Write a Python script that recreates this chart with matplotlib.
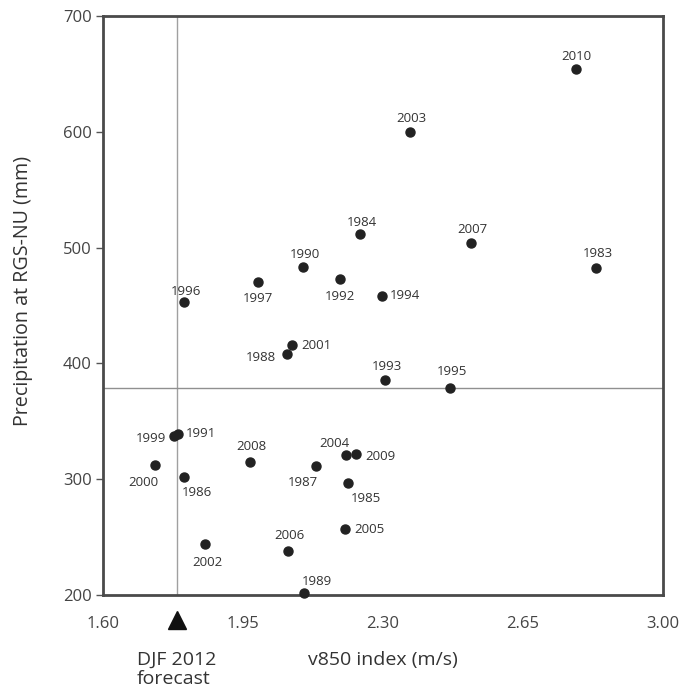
import matplotlib
matplotlib.use("Agg")
import matplotlib.pyplot as plt

plt.rcParams['font.family'] = ['Open Sans', 'DejaVu Sans']

# v850 index (m/s) and DJF precipitation at RGS-NU (mm) per year
years = [1983, 1984, 1985, 1986, 1987, 1988, 1989, 1990, 1991, 1992, 1993,
         1994, 1995, 1996, 1997, 1999, 2000, 2001, 2002, 2003, 2004, 2005,
         2006, 2007, 2008, 2009, 2010]
v850 = [2.833, 2.243, 2.213, 1.803, 2.133, 2.059, 2.103, 2.101, 1.788, 2.193,
        2.306, 2.298, 2.468, 1.803, 1.988, 1.778, 1.730, 2.073, 1.855, 2.368,
        2.208, 2.206, 2.063, 2.521, 1.968, 2.233, 2.782]
precip = [482, 512, 297, 302, 311, 408, 201.5, 483, 339, 473, 386,
          458.5, 379, 453, 470, 337, 312, 416, 244, 600,
          321, 257, 238, 504, 315, 322, 654]

forecast_v850 = 1.785
mean_precip = 379

xticks = [1.60, 1.95, 2.30, 2.65, 3.00]
yticks = [200, 300, 400, 500, 600, 700]

# label offsets from each point, in pixels (x right, y down)
label_off = {
    1983: (2, -15), 1984: (2, -11), 1985: (18, 16), 1986: (13, 16),
    1987: (-13, 16), 1988: (-26, 3), 1989: (13, -12), 1990: (2, -13),
    1991: (23, -1), 1992: (0, 18), 1993: (2, -13), 1994: (23, 0),
    1995: (2, -16), 1996: (2, -11), 1997: (0, 16), 1999: (-23, 2),
    2000: (-12, 17), 2001: (24, 1), 2002: (2, 18), 2003: (1, -13),
    2004: (-12, -11), 2005: (24, 1), 2006: (1, -15), 2007: (1, -13),
    2008: (1, -15), 2009: (24, 3), 2010: (1, -13),
}

fig = plt.figure(figsize=(6.83, 6.88), dpi=100)
ax = fig.add_axes([103/683, 1 - 595/688, 560/683, 579/688])

text_c = '#333333'
ax.axvline(forecast_v850, color='#a0a0a0', lw=1, zorder=1)
ax.axhline(mean_precip, color='#909090', lw=1, zorder=1)
ax.plot(v850, precip, 'o', color='#222222', ms=6.5, zorder=3, clip_on=False)

for yr, x, y in zip(years, v850, precip):
    dx, dy = label_off[yr]
    ax.annotate(str(yr), (x, y), xytext=(dx * 0.72, -dy * 0.72),
                textcoords='offset points', ha='center', va='center',
                fontsize=9.5, color=text_c)

ax.set_xlim(1.60, 3.00)
ax.set_ylim(200, 700)
ax.set_xticks(xticks)
ax.set_xticklabels(['%.2f' % t for t in xticks])
ax.set_yticks(yticks)
ax.tick_params(axis='x', length=0, pad=15, labelsize=12, labelcolor='#444444')
ax.tick_params(axis='y', length=5, width=1, color='#555555', pad=3,
               labelsize=12, labelcolor='#444444')
for s in ax.spines.values():
    s.set_color('#4a4a4a')
    s.set_linewidth(2)

# forecast marker under the axis
ax.plot([forecast_v850], [-0.043], marker='^', color='#111111', ms=13,
        transform=ax.get_xaxis_transform(), clip_on=False)
ax.text(forecast_v850 - 40/400, -0.096, 'DJF 2012\nforecast',
        transform=ax.get_xaxis_transform(), ha='left', va='top',
        fontsize=14, color=text_c, linespacing=1.1)

ax.set_xlabel('v850 index (m/s)', fontsize=14, color=text_c)
ax.xaxis.set_label_coords(0.5, -0.096)
ax.set_ylabel('Precipitation at RGS-NU (mm)', fontsize=14.2, color=text_c)
ax.yaxis.set_label_coords(-0.125, 0.525)

fig.savefig('out.png', dpi=100)
